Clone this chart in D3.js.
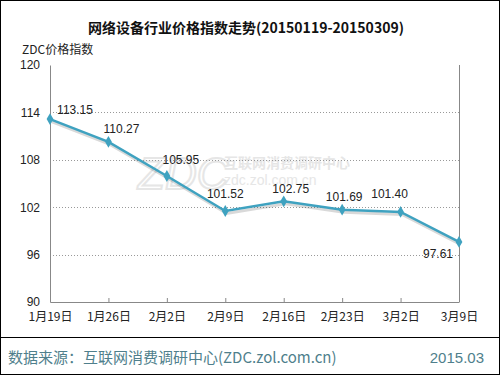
<!DOCTYPE html>
<html>
<head>
<meta charset="utf-8">
<script src="https://cdn.jsdelivr.net/npm/d3@7"></script>
<style>
  body { margin: 0; background: #fff; }
  text { font-family: "Liberation Sans", "Noto Sans CJK SC", sans-serif; }
</style>
</head>
<body>
<div id="chart"></div>
<script>
// Data
const dates = ["1月19日", "1月26日", "2月2日", "2月9日", "2月16日", "2月23日", "3月2日", "3月9日"];
const values = [113.15, 110.27, 105.95, 101.52, 102.75, 101.69, 101.40, 97.61];
const yTicks = [90, 96, 102, 108, 114, 120];

// Label placement relative to each point (label centre)
const labelDx = [25, 13, 14, 0, 7, 2, -11, -21];
const labelDy = [-9, -13, -16, -17, -12, -13, -18, 12];

const width = 500;
const height = 375;
const margin = {top: 65, right: 41, bottom: 73, left: 50};
const innerWidth = width - margin.left - margin.right;
const innerHeight = height - margin.top - margin.bottom;
const lineColor = "#3fa2c0";
const fontCJK = "'Noto Sans CJK SC', sans-serif";

const svg = d3.select("#chart")
  .append("svg")
    .attr("width", width)
    .attr("height", height);

// Outer frame and footer separator
svg.append("rect")
    .attr("x", 0.5).attr("y", 0.5)
    .attr("width", width - 1).attr("height", height - 1)
    .attr("fill", "none").attr("stroke", "#000");
svg.append("line")
    .attr("x1", 0).attr("x2", width)
    .attr("y1", 337.5).attr("y2", 337.5)
    .attr("stroke", "#000");

// Title
svg.append("text")
    .text("网络设备行业价格指数走势(20150119-20150309)")
    .attr("x", 246).attr("y", 33)
    .attr("text-anchor", "middle")
    .style("font-family", fontCJK)
    .style("font-weight", "bold")
    .style("font-size", "14px")
    .attr("fill", "#111");

svg.append("text")
    .text("ZDC价格指数")
    .attr("x", 22).attr("y", 54)
    .style("font-family", fontCJK)
    .style("font-size", "12px")
    .attr("fill", "#222");

const inner = svg.append("g")
    .attr("transform", `translate(${margin.left}, ${margin.top})`);

// Scales
const xScale = d3.scalePoint()
  .domain(dates)
  .range([0, innerWidth]);

const yScale = d3.scaleLinear()
  .domain([90, 120])
  .range([innerHeight, 0]);

// Watermark
const wm = inner.append("g").attr("fill", "#e6e6e6");
wm.append("text").text("ZDC")
    .attr("x", 88).attr("y", 124)
    .style("font-size", "44px").style("font-style", "italic")
    .attr("fill", "none")
    .attr("stroke", "#e6e6e6")
    .attr("stroke-width", 2);
wm.append("text").text("互联网消费调研中心")
    .attr("x", 174).attr("y", 103)
    .style("font-family", fontCJK)
    .style("font-size", "14px").style("font-weight", "bold");
wm.append("text").text("zdc.zol.com.cn")
    .attr("x", 174).attr("y", 120)
    .style("font-size", "14px");

// Gridlines
inner.selectAll(".grid")
  .data(yTicks.filter(d => d > 90 && d < 120))
  .join("line")
    .attr("x1", 0).attr("x2", innerWidth)
    .attr("y1", d => Math.round(yScale(d)) + 0.5)
    .attr("y2", d => Math.round(yScale(d)) + 0.5)
    .attr("stroke", "#999")
    .attr("stroke-dasharray", "1,2");

// Axes
const leftAxis = d3.axisLeft(yScale)
  .tickValues(yTicks)
  .tickSize(0)
  .tickPadding(10);
const leftG = inner.append("g").call(leftAxis);
leftG.select(".domain").attr("stroke", "#888");
leftG.selectAll("text")
    .style("font-family", "'Liberation Sans', sans-serif")
    .style("font-size", "12px")
    .attr("fill", "#222");

inner.append("line")
    .attr("x1", innerWidth + 0.5).attr("x2", innerWidth + 0.5)
    .attr("y1", 0).attr("y2", innerHeight)
    .attr("stroke", "#888");

const bottomAxis = d3.axisBottom(xScale)
  .tickSize(-4)
  .tickSizeOuter(0)
  .tickPadding(10);
const bottomG = inner.append("g")
    .attr("transform", `translate(0, ${innerHeight})`)
    .call(bottomAxis);
bottomG.select(".domain").attr("stroke", "#888");
bottomG.selectAll("line").attr("stroke", "#888");
bottomG.selectAll("text")
    .style("font-family", fontCJK)
    .style("font-size", "12px")
    .attr("fill", "#222");

// Line with shadow
const line = d3.line()
  .x((d, i) => xScale(dates[i]))
  .y(d => yScale(d));

inner.append("path")
    .datum(values)
    .attr("d", line)
    .attr("transform", "translate(1.5, 2.5)")
    .attr("fill", "none")
    .attr("stroke", "#000")
    .attr("stroke-opacity", 0.15)
    .attr("stroke-width", 3);

inner.append("path")
    .datum(values)
    .attr("d", line)
    .attr("fill", "none")
    .attr("stroke", lineColor)
    .attr("stroke-width", 2.5);

// Diamond markers
const diamond = d3.symbol().type(d3.symbolDiamond).size(40);
inner.selectAll(".marker")
  .data(values)
  .join("path")
    .attr("d", diamond)
    .attr("transform", (d, i) => `translate(${xScale(dates[i])}, ${yScale(d)})`)
    .attr("fill", lineColor);

// Value labels
inner.selectAll(".label")
  .data(values)
  .join("text")
    .text(d => d.toFixed(2))
    .attr("x", (d, i) => xScale(dates[i]) + labelDx[i])
    .attr("y", (d, i) => yScale(d) + labelDy[i] + 4)
    .attr("text-anchor", "middle")
    .style("font-size", "12px")
    .attr("fill", "#222");

// Footer
svg.append("text")
    .text("数据来源：互联网消费调研中心(ZDC.zol.com.cn)")
    .attr("x", 8).attr("y", 363)
    .style("font-family", fontCJK)
    .style("font-size", "15px")
    .attr("fill", "#4f7f8c");
svg.append("text")
    .text("2015.03")
    .attr("x", 484).attr("y", 363)
    .attr("text-anchor", "end")
    .style("font-size", "15px")
    .attr("fill", "#4f7f8c");
</script>
</body>
</html>
